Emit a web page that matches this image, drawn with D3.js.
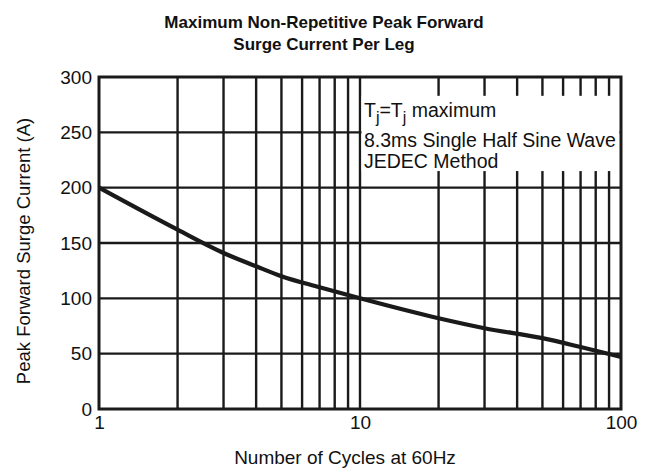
<!DOCTYPE html>
<meta charset="utf-8">
<style>
body { margin: 0; background: #fff; }
text { font-family: "Liberation Sans", Arial, sans-serif; fill: #111; }
.grid line { stroke: #1a1a1a; stroke-width: 2.4px; }
.curve { fill: none; stroke: #1a1a1a; stroke-width: 4.2px; }
.tick text { font-size: 19px; }
</style>
<body>
<svg id="svg" width="647" height="469"></svg>
<script src="https://cdn.jsdelivr.net/npm/d3@7"></script>
<script>

// cycles (x) and peak surge current (y)
var cycles  = [1, 2, 3, 4, 5, 7, 10, 20, 30, 50, 70, 100];
var current = [200, 162, 141, 129, 120, 110, 100, 82, 73, 64, 56, 47];

var xGrid = [2, 3, 4, 5, 6, 7, 8, 9, 10, 20, 30, 40, 50, 60, 70, 80, 90];
var yGrid = [50, 100, 150, 200, 250];
var yTicks = [0, 50, 100, 150, 200, 250, 300];
var xTicks = [1, 10, 100];

var svg = d3.select("svg"),
    margin = {top: 77, right: 26, bottom: 60, left: 99},
    width = svg.attr("width") - margin.left - margin.right,
    height = svg.attr("height") - margin.top - margin.bottom,
    g = svg.append("g").attr("transform", "translate(" + margin.left + "," + margin.top + ")");

var x = d3.scaleLog().domain([1, 100]).range([0, width]),
    y = d3.scaleLinear().domain([0, 300]).range([height, 0]);

// title
svg.append("text")
    .attr("x", 324).attr("y", 28)
    .attr("text-anchor", "middle")
    .style("font-size", "17px").style("font-weight", "bold")
    .text("Maximum Non-Repetitive Peak Forward");
svg.append("text")
    .attr("x", 324).attr("y", 50)
    .attr("text-anchor", "middle")
    .style("font-size", "17px").style("font-weight", "bold")
    .text("Surge Current Per Leg");

var grid = g.append("g").attr("class", "grid");

grid.selectAll(".v").data(xGrid).enter().append("line")
    .attr("x1", function(d) { return x(d); })
    .attr("x2", function(d) { return x(d); })
    .attr("y1", 0).attr("y2", height);

grid.selectAll(".h").data(yGrid).enter().append("line")
    .attr("x1", 0).attr("x2", width)
    .attr("y1", function(d) { return y(d); })
    .attr("y2", function(d) { return y(d); });

// white note box over the upper right grid
g.append("rect")
    .attr("x", x(10) + 1.5)
    .attr("y", y(283))
    .attr("width", width - x(10) - 3)
    .attr("height", y(215) - y(283))
    .style("fill", "#fff");

var note = g.append("g").attr("transform", "translate(" + (x(10) + 4) + ",0)")
    .style("font-size", "19.5px");
var t1 = note.append("text").attr("y", y(264));
t1.append("tspan").text("T");
t1.append("tspan").attr("dy", 6).style("font-size", "16px").text("j");
t1.append("tspan").attr("dy", -6).text("=T");
t1.append("tspan").attr("dy", 6).style("font-size", "16px").text("j");
t1.append("tspan").attr("dy", -6).text(" maximum");
note.append("text").attr("y", y(237)).text("8.3ms Single Half Sine Wave");
note.append("text").attr("y", y(218)).text("JEDEC Method");

// curve
var line = d3.line()
    .curve(d3.curveMonotoneX)
    .x(function(d) { return x(d[0]); })
    .y(function(d) { return y(d[1]); });

g.append("path")
    .datum(d3.zip(cycles, current))
    .attr("class", "curve")
    .attr("d", line);

// frame
g.append("rect")
    .attr("width", width).attr("height", height)
    .style("fill", "none").style("stroke", "#1a1a1a").style("stroke-width", "3px");

// axes
var yAxis = g.append("g")
    .call(d3.axisLeft(y).tickValues(yTicks).tickSize(0).tickPadding(7));
yAxis.select(".domain").remove();

var xAxis = g.append("g")
    .attr("transform", "translate(0," + height + ")")
    .call(d3.axisBottom(x).tickValues(xTicks).tickFormat(d3.format("d")).tickSize(0).tickPadding(7));
xAxis.select(".domain").remove();

svg.append("text")
    .attr("transform", "translate(30," + (margin.top + height / 2 + 8) + ") rotate(-90)")
    .attr("text-anchor", "middle")
    .style("font-size", "18.5px")
    .text("Peak Forward Surge Current (A)");

svg.append("text")
    .attr("x", 345).attr("y", 464)
    .attr("text-anchor", "middle")
    .style("font-size", "19px")
    .text("Number of Cycles at 60Hz");

</script>
</body>
